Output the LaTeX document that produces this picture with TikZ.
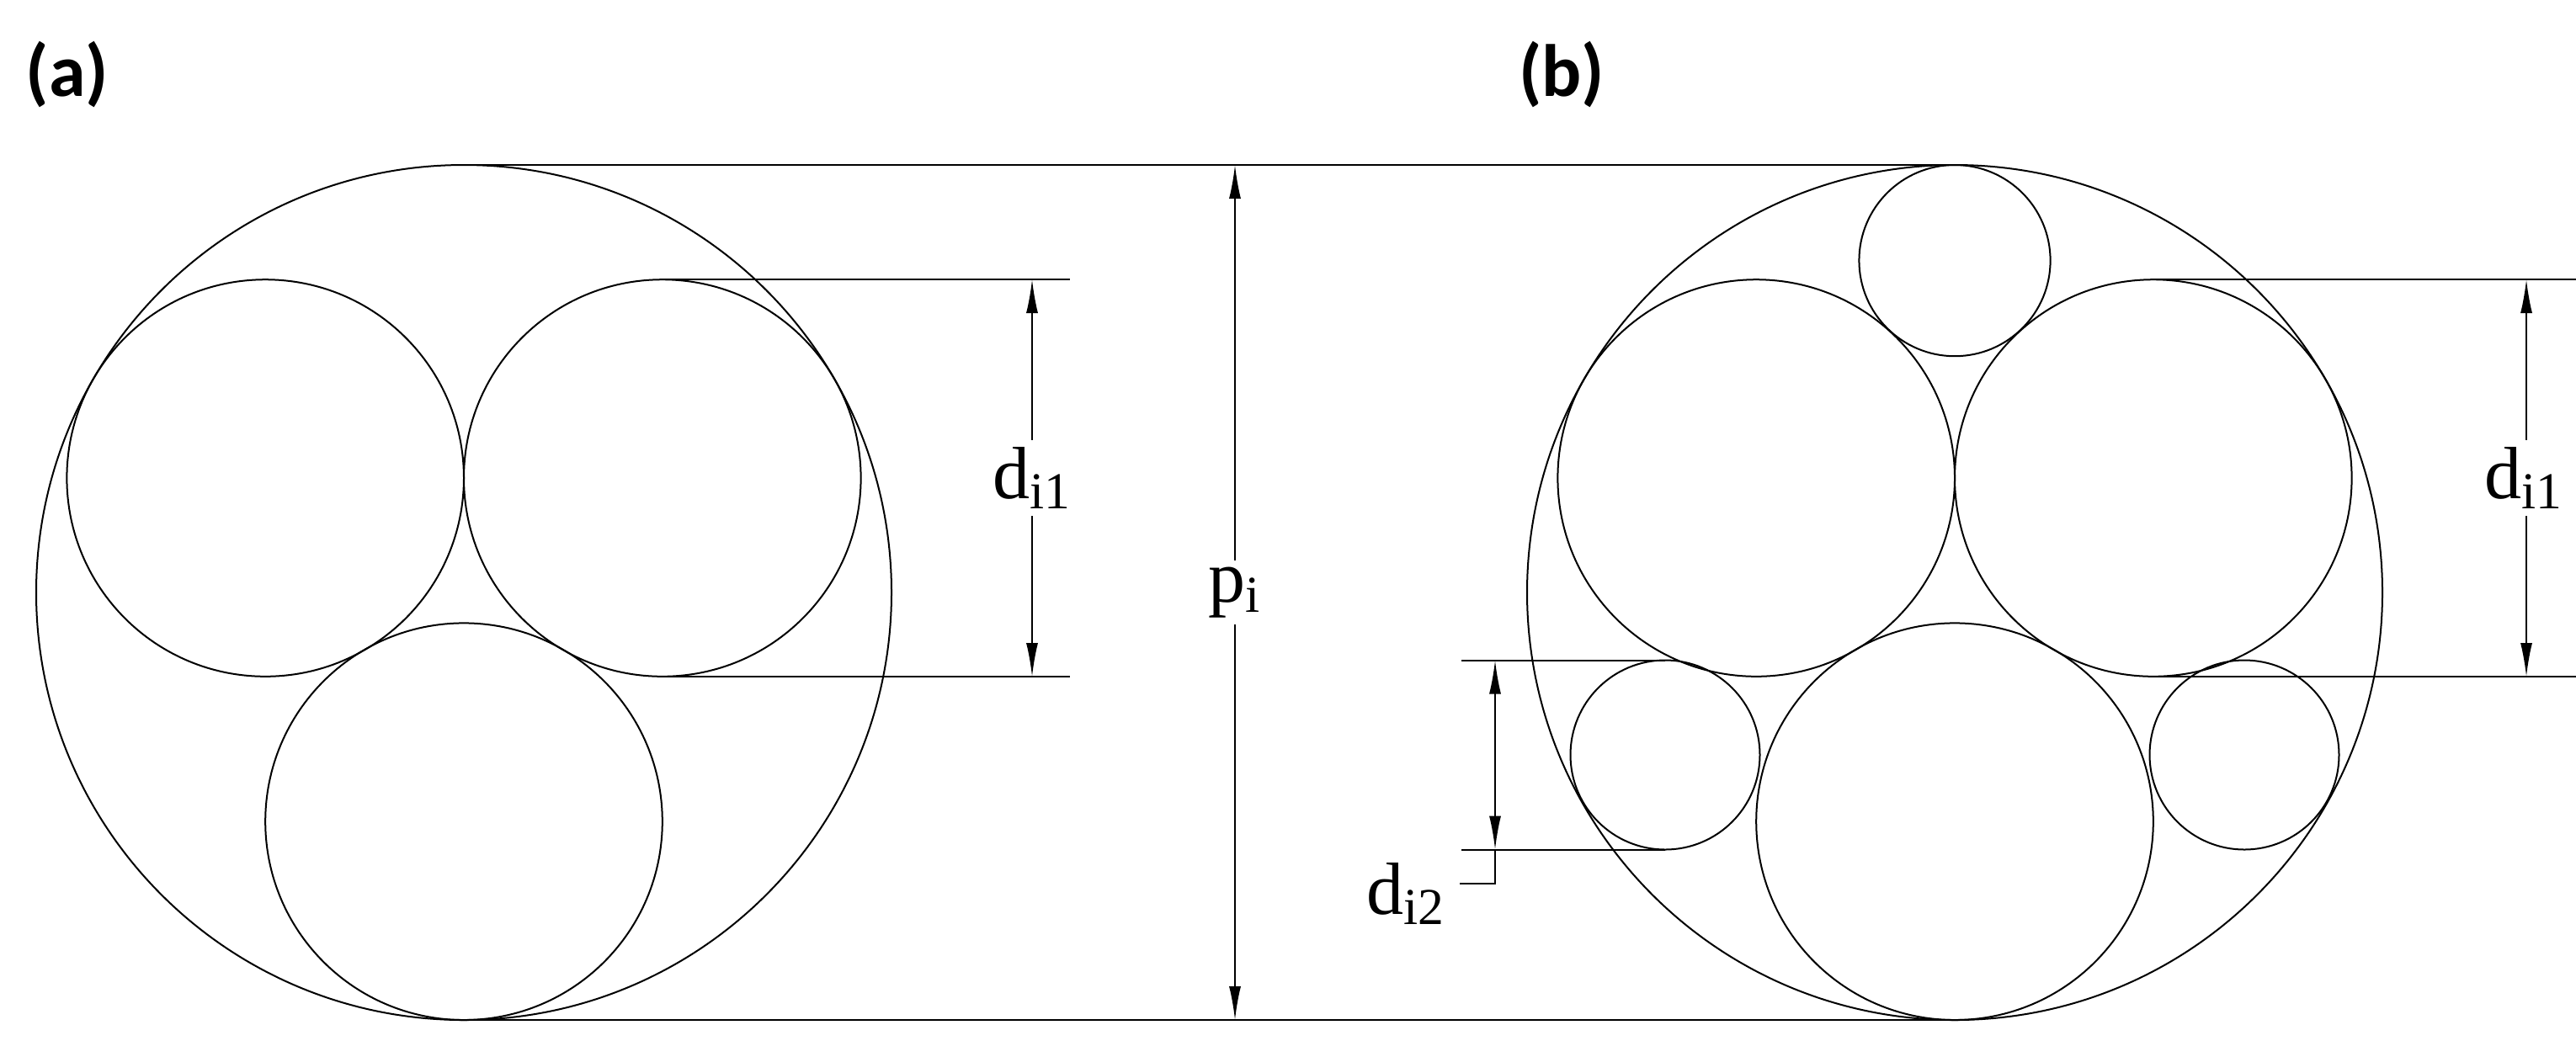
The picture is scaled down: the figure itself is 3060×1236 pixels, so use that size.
\documentclass[tikz,border=0pt]{standalone}
\usepackage{fontspec}
\setmainfont{Liberation Serif}
\newfontfamily\labfont{Carlito}
\usetikzlibrary{arrows.meta}
\begin{document}
\begin{tikzpicture}[x=0.25pt,y=-0.25pt,line width=0.5pt,
  dim/.style={{Latex[length=10pt,width=3.5pt]}-{Latex[length=10pt,width=3.5pt]}},
  lab/.style={fill=white,inner sep=2pt,font=\fontsize{22}{26}\selectfont},
  panel/.style={font=\labfont\bfseries\fontsize{22}{26}\selectfont}]
\useasboundingbox (0,0) rectangle (3060,1236);
% (a)
\draw (551,704) circle[radius=508];
\draw (315.2,568) circle[radius=235.8];
\draw (786.8,568) circle[radius=235.8];
\draw (551,976.2) circle[radius=235.8];
% (b)
\draw (2322,704) circle[radius=508];
\draw (2086.2,568) circle[radius=235.8];
\draw (2557.8,568) circle[radius=235.8];
\draw (2322,976.2) circle[radius=235.8];
\draw (2322,309.6) circle[radius=113.6];
\draw (1978,897) circle[radius=112.5];
\draw (2666,897) circle[radius=112.5];
% tangents
\draw (551,196) -- (2322,196);
\draw (551,1212) -- (2322,1212);
% dims (a)
\coordinate (a1) at (1226,332); \coordinate (a2) at (1226,804);
\draw (786.8,332) -- (1271,332);
\draw (786.8,804) -- (1271,804);
\draw[dim] (a1) -- (a2);
\node[lab] at (1226,568) {d\textsubscript{i1}};
\coordinate (p1) at (1467,196); \coordinate (p2) at (1467,1212);
\draw[dim] (p1) -- (p2);
\node[lab] at (1467,704) {p\textsubscript{i}};
% dims (b)
\coordinate (b1) at (3001,332); \coordinate (b2) at (3001,804);
\draw (2557.8,332) -- (3060,332);
\draw (2557.8,804) -- (3060,804);
\draw[dim] (b1) -- (b2);
\node[lab] at (2998,568) {d\textsubscript{i1}};
\coordinate (c1) at (1776,784.5); \coordinate (c2) at (1776,1009.5);
\draw (1736,784.5) -- (1978,784.5);
\draw (1736,1009.5) -- (1978,1009.5);
\draw[dim] (c1) -- (c2);
\draw (c2) -- (1776,1050) -- (1734,1050);
\node[lab,fill=none] at (1670,1062) {d\textsubscript{i2}};
\node[panel] at (80,88) {(a)};
\node[panel] at (1855,88) {(b)};
\end{tikzpicture}
\end{document}
